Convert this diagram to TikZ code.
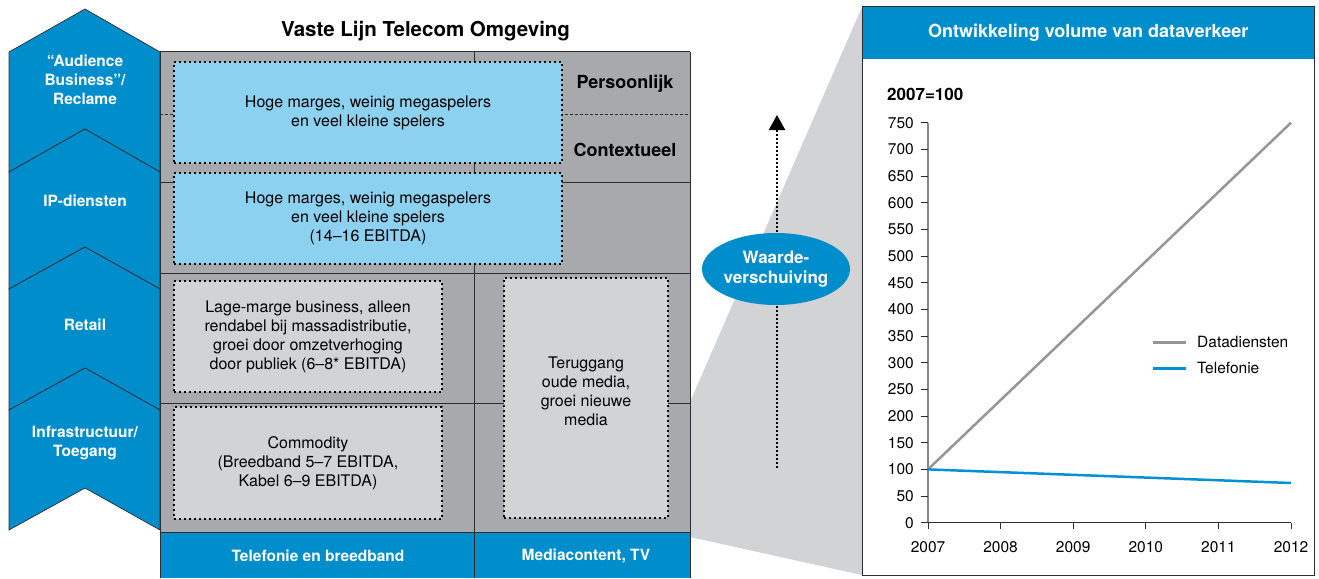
\documentclass[tikz,border=0pt]{standalone}
\usepackage{fontspec}
\setmainfont{TeX Gyre Heros}
\usetikzlibrary{shapes.geometric,arrows.meta}

\definecolor{kpnblue}{RGB}{0,141,204}
\definecolor{cellgray}{RGB}{167,169,172}
\definecolor{boxgray}{RGB}{209,211,212}
\definecolor{boxblue}{RGB}{141,209,241}
\definecolor{linedark}{RGB}{45,45,45}
\definecolor{axisgray}{RGB}{135,135,135}
\definecolor{datagray}{RGB}{150,150,150}
\definecolor{telblue}{RGB}{0,146,210}

\tikzset{
  chev/.style={fill=kpnblue, draw=linedark, line width=0.7pt, line join=miter},
  chevlabel/.style={text=white, font=\fontsize{15.5}{19}\selectfont\bfseries, align=center, inner sep=0pt},
  bodytext/.style={font=\fontsize{16}{19}\selectfont, align=center, text=black},
  dotbox/.style={draw=black, line width=2pt, dash pattern=on 2pt off 3pt, inner sep=0pt},
  gridline/.style={draw=linedark, line width=1pt},
  rowlabel/.style={font=\fontsize{18}{21}\selectfont\bfseries, text=black},
  footlabel/.style={text=white, font=\fontsize{15.5}{18}\selectfont\bfseries},
  ticklabel/.style={font=\fontsize{15.5}{18}\selectfont, text=black, inner sep=0pt},
  dataline/.style={line width=2.5pt},
  dotarrow/.style={line width=2.2pt, dash pattern=on 2pt off 2pt, -{Triangle[width=16pt,length=15pt]}},
}

\begin{document}
\begin{tikzpicture}[x=1pt,y=-1pt]
\useasboundingbox (0,0) rectangle (1319,578);

% ---- funnel linking the table to the chart
\fill[boxgray] (690,402) -- (862,7) -- (862,575) -- (690,537) -- cycle;

% ---- value chain chevrons
\path[chev] (9,52) -- (85,9) -- (160,52) -- (160,172) -- (85,129) -- (9,172) -- cycle;
\path[chev] (9,172) -- (85,129) -- (160,172) -- (160,289) -- (85,247) -- (9,289) -- cycle;
\path[chev] (9,289) -- (85,247) -- (160,289) -- (160,410) -- (85,368) -- (9,410) -- cycle;
\path[chev] (9,410) -- (85,368) -- (160,410) -- (160,530) -- (85,488) -- (9,530) -- cycle;
\node (audience) [chevlabel] at (85,80) {“Audience\\Business”/\\Reclame};
\node (ipdienst) [chevlabel] at (85,201) {IP-diensten};
\node (retail)   [chevlabel] at (85,325) {Retail};
\node (infra)    [chevlabel] at (85,443) {Infrastructuur/\\Toegang};

% ---- title of the table
\node (tabletitle) [font=\fontsize{20.5}{24}\selectfont\bfseries] at (425.5,31) {Vaste Lijn Telecom Omgeving};

% ---- table body
\fill[cellgray] (160,52) rectangle (690,532);
\fill[kpnblue] (160,532) rectangle (690,578);
\draw[gridline] (160,52) -- (690,52);
\draw[gridline, dash pattern=on 3pt off 2pt] (160,114) -- (690,114);
\draw[gridline] (160,182) -- (690,182);
\draw[gridline] (160,273) -- (690,273);
\draw[gridline] (160,403) -- (690,403);
\draw[gridline] (160,532) -- (690,532);
\draw[gridline] (160,52) -- (160,578);
\draw[gridline] (474,52) -- (474,578);
\draw[gridline] (690,52) -- (690,578);

\node (persoonlijk) [rowlabel] at (625,84) {Persoonlijk};
\node (contextueel) [rowlabel] at (625,150) {Contextueel};

% ---- boxes with margin descriptions
\node (audbox) [dotbox, fill=boxblue, minimum width=388pt, minimum height=101pt, bodytext] at (368,112.5)
  {Hoge marges, weinig megaspelers\\en veel kleine spelers};
\node (ipbox) [dotbox, fill=boxblue, minimum width=388pt, minimum height=91pt, bodytext] at (368,218.5)
  {Hoge marges, weinig megaspelers\\en veel kleine spelers\\(14–16 EBITDA)};
\node (retbox) [dotbox, fill=boxgray, minimum width=268pt, minimum height=111pt, bodytext] at (308,336.5)
  {Lage-marge business, alleen\\rendabel bij massadistributie,\\groei door omzetverhoging\\door publiek (6–8* EBITDA)};
\node (infbox) [dotbox, fill=boxgray, minimum width=268pt, minimum height=112pt, bodytext] at (308,463)
  {Commodity\\(Breedband 5–7 EBITDA,\\Kabel 6–9 EBITDA)};
\node (mediabox) [dotbox, fill=boxgray, minimum width=164pt, minimum height=240pt] at (586,398) {};
\node (mediatext) [bodytext] at (586,391) {Teruggang\\oude media,\\groei nieuwe\\media};

% ---- column footers
\node (telfoot) [footlabel] at (318,556) {Telefonie en breedband};
\node (medfoot) [footlabel] at (586,556) {Mediacontent, TV};

% ---- value shift arrow
\coordinate (shiftlow) at (777,468);
\coordinate (shifttip) at (777,115);
\draw[dotarrow] (shiftlow) -- (shifttip);
\node (shift) [ellipse, fill=kpnblue, minimum width=142pt, minimum height=72pt, inner sep=0pt,
  text=white, font=\fontsize{17}{20.5}\selectfont\bfseries, align=center] at (776,269)
  {Waarde-\\verschuiving};

% ---- chart panel
\fill[white] (862,7) rectangle (1314,575);
\node (charthead) [fill=kpnblue, minimum width=452pt, minimum height=52pt, anchor=north west,
  inner sep=0pt, text=white, font=\fontsize{18}{21}\selectfont\bfseries] at (862,7)
  {Ontwikkeling volume van dataverkeer};
\draw[linedark, line width=1pt] (862,7) rectangle (1314,575);

\node (indexnote) [anchor=west, inner sep=0pt, font=\fontsize{17}{20}\selectfont\bfseries] at (887,94) {2007=100};

% axes
\draw[axisgray, line width=2pt] (928,122.7) -- (928,522.7);
\draw[linedark, line width=1.2pt] (928,522.7) -- (1291,522.7);
\foreach \v in {0,50,...,750} {
  \draw[linedark, line width=1pt] (921,{522.7-0.53333*\v}) -- (928,{522.7-0.53333*\v});
  \node[ticklabel, anchor=east] at (914,{522.7-0.53333*\v}) {\v};
}
\foreach \i/\yr in {0/2007,1/2008,2/2009,3/2010,4/2011,5/2012} {
  \draw[linedark, line width=1pt] ({928+72.6*\i},522.7) -- ({928+72.6*\i},529);
  \node[ticklabel] at ({928+72.6*\i},547) {\yr};
}

% data series
\draw[datagray, dataline] (928,469.4) -- (1291,122.7);
\draw[telblue, dataline] (928,469.4) -- (1291,483);

% legend
\draw[datagray, line width=3pt] (1153,342) -- (1186,342);
\node (legdata) [ticklabel, anchor=west] at (1197,342) {Datadiensten};
\draw[telblue, line width=3pt] (1153,368) -- (1186,368);
\node (legtel) [ticklabel, anchor=west] at (1197,368) {Telefonie};
\end{tikzpicture}
\end{document}
